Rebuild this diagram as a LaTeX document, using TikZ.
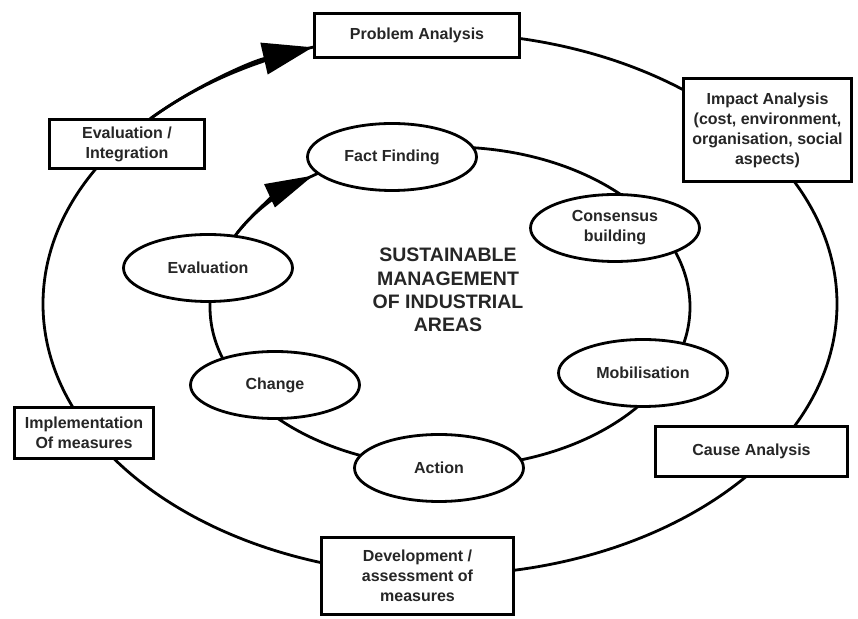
\documentclass[tikz,border=0pt]{standalone}
\usepackage{fontspec}
\setmainfont{Liberation Sans}
\usepackage{tikz}
\usetikzlibrary{arrows.meta,shapes.geometric}

\begin{document}
\begin{tikzpicture}[x=0.5pt,y=-0.5pt,line width=1.4pt,
  phase/.style={draw,fill=white,rectangle,inner sep=0pt,align=center,text=black!85,font=\bfseries\fontsize{8}{10}\selectfont},
  task/.style={draw,fill=white,ellipse,inner sep=0pt,minimum width=84.5pt,minimum height=33.5pt,align=center,text=black!85,font=\bfseries\fontsize{8}{10}\selectfont}]
\useasboundingbox (0,0) rectangle (858,619);
\begin{scope}[>={Triangle[length=25pt,width=16pt]}]

    \coordinate (outc) at (440,304);
    \coordinate (inc) at (450,307);
    \draw (outc) ellipse[x radius=397,y radius=271];
    \draw (inc) ellipse[x radius=240,y radius=160];

    \node[phase,minimum width=102.5pt,minimum height=22pt] (problem) at (417,35.5) {Problem Analysis};
    \node[phase,minimum width=84pt,minimum height=51.5pt] (impact) at (767.5,130) {Impact Analysis\\(cost, environment,\\organisation, social\\aspects)};
    \node[phase,minimum width=96pt,minimum height=25pt] (cause) at (751.5,451.5) {Cause Analysis};
    \node[phase,minimum width=96pt,minimum height=38.5pt] (develop) at (417.5,576) {Development /\\assessment of\\measures};
    \node[phase,minimum width=69.5pt,minimum height=25.5pt] (implement) at (84,433) {Implementation\\Of measures};
    \node[phase,minimum width=77.5pt,minimum height=24.5pt] (evalint) at (127,144) {Evaluation /\\Integration};

    \node[task] (fact) at (392,157) {Fact Finding};
    \node[task] (consensus) at (615,228) {Consensus\\building};
    \node[task] (mobil) at (643,373) {Mobilisation};
    \node[task] (action) at (439,468) {Action};
    \node[task] (change) at (275,385) {Change};
    \node[task] (evaluation) at (208,268) {Evaluation};

    \node[align=center,text=black!85,font=\bfseries\fontsize{9.75}{11.65}\selectfont] (title) at (448,290) {SUSTAINABLE\\MANAGEMENT\\OF INDUSTRIAL\\AREAS};

    \path (outc) ++(223.2:397 and 271) coordinate (outstart);
    \draw[->] (outstart) arc[start angle=223.2,end angle=251.3,x radius=397,y radius=271];
    \path (inc) ++(207.5:240 and 160) coordinate (instart);
    \draw[-{Triangle[length=24pt,width=12.5pt]}] (instart) arc[start angle=207.5,end angle=235.2,x radius=240,y radius=160];

\end{scope}
\end{tikzpicture}
\end{document}
